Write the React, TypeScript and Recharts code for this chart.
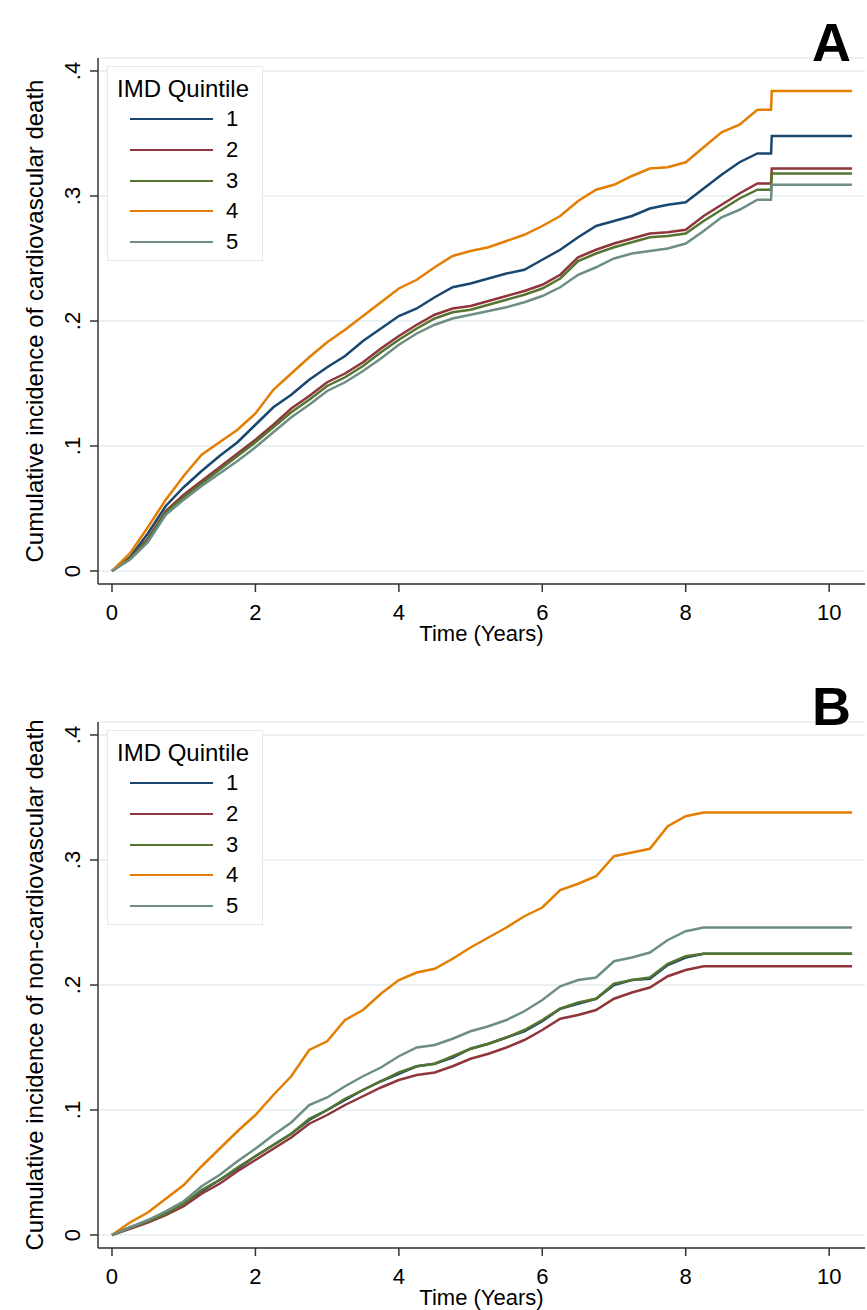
import React from "react";
import { LineChart, Line, XAxis, YAxis, CartesianGrid, Legend, Label } from "recharts";

const FONT = '"Liberation Sans", Arial, Helvetica, sans-serif';

// follow-up time (years)
const times = [
  0, 0.25, 0.5, 0.75, 1, 1.25, 1.5, 1.75, 2, 2.25, 2.5, 2.75, 3, 3.25, 3.5, 3.75, 4, 4.25, 4.5,
  4.75, 5, 5.25, 5.5, 5.75, 6, 6.25, 6.5, 6.75, 7, 7.25, 7.5, 7.75, 8, 8.25, 8.5, 8.75, 9, 9.19,
  9.2, 9.5, 9.75, 10, 10.32,
];

const quintiles = ["1", "2", "3", "4", "5"];
const colors = ["#1a476f", "#90353b", "#55752f", "#e37e00", "#6e8e84"];
const yTicks = [0, 0.1, 0.2, 0.3, 0.4];
const xTicks = [0, 2, 4, 6, 8, 10];

// A: cardiovascular death
const cvdQ1 = [
  0, 0.011, 0.03, 0.052, 0.067, 0.08, 0.092, 0.103, 0.117, 0.131, 0.141, 0.153, 0.163, 0.172,
  0.184, 0.194, 0.204, 0.21, 0.219, 0.227, 0.23, 0.234, 0.238, 0.241, 0.249, 0.257, 0.267, 0.276,
  0.28, 0.284, 0.29, 0.293, 0.295, 0.306, 0.317, 0.327, 0.334, 0.334, 0.348, 0.348, 0.348, 0.348,
  0.348,
];
const cvdQ2 = [
  0, 0.01, 0.026, 0.048, 0.061, 0.072, 0.083, 0.094, 0.105, 0.117, 0.13, 0.14, 0.151, 0.158,
  0.167, 0.178, 0.188, 0.197, 0.205, 0.21, 0.212, 0.216, 0.22, 0.224, 0.229, 0.237, 0.251, 0.257,
  0.262, 0.266, 0.27, 0.271, 0.273, 0.284, 0.293, 0.302, 0.31, 0.31, 0.322, 0.322, 0.322, 0.322,
  0.322,
];
const cvdQ3 = [
  0, 0.01, 0.025, 0.047, 0.059, 0.07, 0.081, 0.092, 0.103, 0.115, 0.127, 0.137, 0.148, 0.155,
  0.164, 0.175, 0.185, 0.194, 0.202, 0.207, 0.209, 0.213, 0.217, 0.221, 0.226, 0.234, 0.248, 0.254,
  0.259, 0.263, 0.267, 0.268, 0.27, 0.28, 0.289, 0.298, 0.305, 0.305, 0.318, 0.318, 0.318, 0.318,
  0.318,
];
const cvdQ4 = [
  0, 0.014, 0.035, 0.057, 0.076, 0.093, 0.103, 0.113, 0.126, 0.145, 0.158, 0.171, 0.183, 0.193,
  0.204, 0.215, 0.226, 0.233, 0.243, 0.252, 0.256, 0.259, 0.264, 0.269, 0.276, 0.284, 0.296, 0.305,
  0.309, 0.316, 0.322, 0.323, 0.327, 0.339, 0.351, 0.357, 0.369, 0.369, 0.384, 0.384, 0.384, 0.384,
  0.384,
];
const cvdQ5 = [
  0, 0.009, 0.023, 0.045, 0.057, 0.068, 0.078, 0.088, 0.099, 0.111, 0.123, 0.133, 0.144, 0.151,
  0.16, 0.17, 0.181, 0.19, 0.197, 0.202, 0.205, 0.208, 0.211, 0.215, 0.22, 0.227, 0.237, 0.243,
  0.25, 0.254, 0.256, 0.258, 0.262, 0.272, 0.283, 0.289, 0.297, 0.297, 0.309, 0.309, 0.309, 0.309,
  0.309,
];

// B: non-cardiovascular death
const ncvdQ1 = [
  0, 0.006, 0.011, 0.017, 0.025, 0.035, 0.044, 0.053, 0.063, 0.072, 0.081, 0.092, 0.1, 0.108,
  0.116, 0.123, 0.129, 0.135, 0.137, 0.142, 0.149, 0.153, 0.158, 0.163, 0.171, 0.181, 0.185, 0.189,
  0.2, 0.204, 0.205, 0.216, 0.222, 0.225, 0.225, 0.225, 0.225, 0.225, 0.225, 0.225, 0.225, 0.225,
  0.225,
];
const ncvdQ2 = [
  0, 0.005, 0.01, 0.016, 0.023, 0.033, 0.041, 0.051, 0.06, 0.069, 0.078, 0.089, 0.096, 0.104,
  0.111, 0.118, 0.124, 0.128, 0.13, 0.135, 0.141, 0.145, 0.15, 0.156, 0.164, 0.173, 0.176, 0.18,
  0.189, 0.194, 0.198, 0.207, 0.212, 0.215, 0.215, 0.215, 0.215, 0.215, 0.215, 0.215, 0.215, 0.215,
  0.215,
];
const ncvdQ3 = [
  0, 0.006, 0.011, 0.017, 0.025, 0.036, 0.044, 0.054, 0.063, 0.072, 0.081, 0.093, 0.1, 0.109,
  0.116, 0.123, 0.13, 0.135, 0.137, 0.143, 0.149, 0.153, 0.158, 0.164, 0.172, 0.181, 0.186, 0.189,
  0.201, 0.204, 0.206, 0.217, 0.223, 0.225, 0.225, 0.225, 0.225, 0.225, 0.225, 0.225, 0.225, 0.225,
  0.225,
];
const ncvdQ4 = [
  0, 0.01, 0.018, 0.029, 0.04, 0.055, 0.069, 0.083, 0.096, 0.112, 0.127, 0.148, 0.155, 0.172,
  0.18, 0.193, 0.204, 0.21, 0.213, 0.221, 0.23, 0.238, 0.246, 0.255, 0.262, 0.276, 0.281, 0.287,
  0.303, 0.306, 0.309, 0.327, 0.335, 0.338, 0.338, 0.338, 0.338, 0.338, 0.338, 0.338, 0.338, 0.338,
  0.338,
];
const ncvdQ5 = [
  0, 0.006, 0.012, 0.019, 0.027, 0.039, 0.048, 0.059, 0.069, 0.08, 0.09, 0.104, 0.11, 0.119,
  0.127, 0.134, 0.143, 0.15, 0.152, 0.157, 0.163, 0.167, 0.172, 0.179, 0.188, 0.199, 0.204, 0.206,
  0.219, 0.222, 0.226, 0.236, 0.243, 0.246, 0.246, 0.246, 0.246, 0.246, 0.246, 0.246, 0.246, 0.246,
  0.246,
];

const buildRows = (series: number[][]) =>
  times.map((t, i) => {
    const row: Record<string, number> = { t };
    series.forEach((s, k) => (row["q" + quintiles[k]] = s[i]));
    return row;
  });

const cvdRows = buildRows([cvdQ1, cvdQ2, cvdQ3, cvdQ4, cvdQ5]);
const ncvdRows = buildRows([ncvdQ1, ncvdQ2, ncvdQ3, ncvdQ4, ncvdQ5]);

const fmtY = (v: number) => (v === 0 ? "0" : String(v).replace(/^0/, ""));

function YTick(props: any) {
  const { x, y, payload } = props;
  const cx = x - 8;
  return (
    <text
      x={cx}
      y={y}
      transform={`rotate(-90 ${cx} ${y})`}
      textAnchor="middle"
      fontSize={22}
      fontFamily={FONT}
      fill="#000"
    >
      {fmtY(payload.value)}
    </text>
  );
}

function QuintileLegend(props: any) {
  const items = (props.payload || []).slice().sort((a: any, b: any) => (a.value > b.value ? 1 : -1));
  return (
    <div
      style={{
        width: 156,
        height: 195,
        boxSizing: "border-box",
        border: "1.5px solid #e3ebee",
        background: "#fff",
        fontFamily: FONT,
        color: "#000",
        position: "relative",
      }}
    >
      <div style={{ position: "absolute", left: 9, top: 8, fontSize: 24, lineHeight: "28px", whiteSpace: "nowrap" }}>
        IMD Quintile
      </div>
      {items.map((p: any, i: number) => (
        <div
          key={p.value}
          style={{ position: "absolute", left: 0, top: 37 + i * 30.8, height: 30, display: "flex", alignItems: "center" }}
        >
          <div style={{ marginLeft: 22, width: 83, height: 2, background: p.color }} />
          <span style={{ marginLeft: 13, fontSize: 22, lineHeight: "30px" }}>{p.value}</span>
        </div>
      ))}
    </div>
  );
}

function Panel({ rows, letter, yTitle, top }: { rows: any[]; letter: string; yTitle: string; top: number }) {
  return (
    <div style={{ position: "absolute", left: 0, top, width: 867, height: 664 }}>
      <LineChart width={867} height={664} data={rows} margin={{ top: 58, right: 2, bottom: 0, left: 38 }}>
        <CartesianGrid vertical={false} stroke="#e6eef0" strokeWidth={1.5} />
        <XAxis
          dataKey="t"
          type="number"
          domain={[-0.195, 10.5]}
          ticks={xTicks}
          allowDataOverflow
          height={80}
          tickSize={8}
          tickMargin={12}
          axisLine={{ stroke: "#333", strokeWidth: 1.5 }}
          tickLine={{ stroke: "#333", strokeWidth: 1.5 }}
          tick={{ fontSize: 22, fill: "#000", fontFamily: FONT }}
        >
          <Label
            content={(p: any) => {
              const vb = p.viewBox || { x: 98, y: 584, width: 767 };
              return (
                <text x={vb.x + vb.width / 2} y={vb.y + 57} textAnchor="middle" fontSize={22} fontFamily={FONT} fill="#000">
                  Time (Years)
                </text>
              );
            }}
          />
        </XAxis>
        <YAxis
          type="number"
          domain={[-0.0104, 0.4104]}
          ticks={yTicks}
          allowDataOverflow
          width={60}
          tickSize={8}
          axisLine={{ stroke: "#333", strokeWidth: 1.5 }}
          tickLine={{ stroke: "#333", strokeWidth: 1.5 }}
          tick={<YTick />}
        >
          <Label
            content={(p: any) => {
              const vb = p.viewBox || { y: 58, height: 526 };
              const cx = 43;
              const cy = vb.y + vb.height / 2;
              return (
                <text
                  x={cx}
                  y={cy}
                  transform={`rotate(-90 ${cx} ${cy})`}
                  textAnchor="middle"
                  fontSize={24}
                  fontFamily={FONT}
                  fill="#000"
                >
                  {yTitle}
                </text>
              );
            }}
          />
        </YAxis>
        <Legend
          layout="vertical"
          align="center"
          verticalAlign="middle"
          content={<QuintileLegend />}
          wrapperStyle={{ position: "absolute", left: 107, top: 66, width: 156, height: 195 }}
        />
        {quintiles.map((q, k) => (
          <Line
            key={q}
            name={q}
            dataKey={"q" + q}
            type="linear"
            stroke={colors[k]}
            strokeWidth={2.5}
            strokeLinejoin="miter"
            dot={false}
            activeDot={false}
            isAnimationActive={false}
          />
        ))}
      </LineChart>
      <div
        style={{
          position: "absolute",
          left: 812,
          top: 15,
          fontSize: 54,
          lineHeight: "54px",
          fontWeight: "bold",
          fontFamily: FONT,
          color: "#000",
        }}
      >
        {letter}
      </div>
    </div>
  );
}

export default function App() {
  return (
    <div style={{ position: "relative", width: 867, height: 1310, background: "#fff", overflow: "hidden" }}>
      <style>{"body{margin:0;background:#fff}"}</style>
      <Panel rows={cvdRows} letter="A" yTitle="Cumulative incidence of cardiovascular death" top={0} />
      <Panel rows={ncvdRows} letter="B" yTitle="Cumulative incidence of non-cardiovascular death" top={664} />
    </div>
  );
}
